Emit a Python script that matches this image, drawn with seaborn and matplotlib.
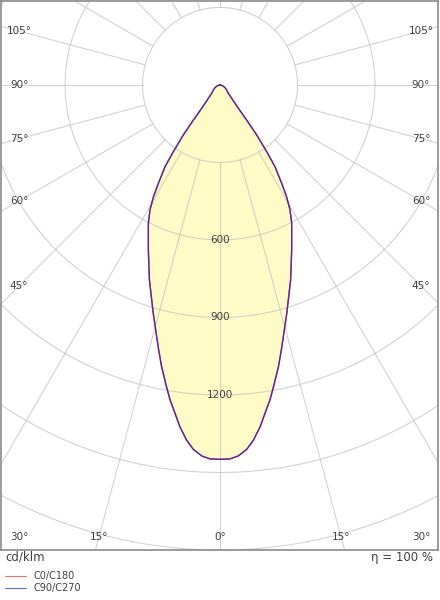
import numpy as np
import pandas as pd
import matplotlib
matplotlib.use("Agg")
import matplotlib.pyplot as plt
from matplotlib.lines import Line2D
import seaborn as sns

# luminous intensity (cd/klm) against gamma angle, one half-plane
gamma = [0, 1.5, 2.8, 4.2, 5.4, 6.7, 7.8, 9.0, 10.2, 11.8, 13.3, 16.3, 19.9, 23.5, 27.4,
         29.25, 30.8, 32.1, 33.95, 35.0, 36.3, 37.2, 38.5, 45, 53, 62, 71, 80, 90]
intensity_c0 = [1449, 1448, 1438, 1414, 1380, 1332, 1283, 1235, 1180, 1110, 1041, 921, 803,
                696, 603, 555, 503, 449, 381, 315, 240, 170, 106, 45, 32, 22, 12, 5, 0]
intensity_c90 = [1449, 1448, 1438, 1414, 1380, 1332, 1283, 1235, 1180, 1110, 1041, 921, 803,
                 696, 603, 555, 503, 449, 381, 315, 240, 170, 106, 45, 32, 22, 12, 5, 0]

ring_values = [300, 600, 900, 1200, 1500, 1800]
ring_labels = [600, 900, 1200]
spoke_angles = list(range(0, 360, 15))
side_labels = [45, 60, 75, 90, 105]
bottom_labels = [0, 15, 30]
legend_names = ["C0/C180", "C90/C270"]
efficiency_text = "η = 100 %"
unit_text = "cd/klm"

sns.set_theme(style="white")
plt.rcParams["font.family"] = ["DejaVu Sans"]

W, H = 440, 600
fig = plt.figure(figsize=(W / 100, H / 100), dpi=100)
ax = fig.add_axes([1 / W, 1 - 550 / H, 437 / W, 549 / H])
XMIN, XMAX, YMIN, YMAX = -848, 844, -1800, 325
ax.set_xlim(XMIN, XMAX)
ax.set_ylim(YMIN, YMAX)

grid_kw = dict(color="#c4c4c4", lw=0.8, alpha=0.75, zorder=2)


def half_to_full(g, vals):
    g = np.array(g, dtype=float)
    v = np.array(vals, dtype=float)
    ang = np.concatenate([-g[::-1], g[1:]])
    r = np.concatenate([v[::-1], v[1:]])
    rad = np.radians(ang)
    return pd.DataFrame({"x": r * np.sin(rad), "y": -r * np.cos(rad)})


curve_c0 = half_to_full(gamma, intensity_c0)
curve_c90 = half_to_full(gamma, intensity_c90)

# fill
ax.fill(curve_c0["x"], curve_c0["y"], color="#fffbc6", zorder=1, lw=0)

# rings
t = np.linspace(0, 2 * np.pi, 400)
for r in ring_values:
    ax.plot(r * np.cos(t), r * np.sin(t), **grid_kw)

# spokes start at inner ring
for a in spoke_angles:
    rad = np.radians(a)
    ax.plot([ring_values[0] * np.sin(rad), 2500 * np.sin(rad)],
            [-ring_values[0] * np.cos(rad), -2500 * np.cos(rad)], **grid_kw)

# curves
sns.lineplot(data=curve_c0, x="x", y="y", sort=False, estimator=None, ax=ax,
             color="#e02828", lw=1.0, zorder=4)
sns.lineplot(data=curve_c90, x="x", y="y", sort=False, estimator=None, ax=ax,
             color="#2828c8", lw=1.0, alpha=0.75, zorder=5)

txt_kw = dict(fontsize=7.5, color="#404040", ha="center", va="center", zorder=6)
for r in ring_labels:
    ax.text(0, -r, str(r), **txt_kw)

xs = 778
for a in side_labels:
    y = -xs / np.tan(np.radians(a)) if a != 90 else 0.0
    ax.text(-xs, y, f"{a}°", **txt_kw)
    ax.text(xs, y, f"{a}°", **txt_kw)

yb = -1750
for a in bottom_labels:
    x = min(abs(yb) * np.tan(np.radians(a)), xs)
    ax.text(-x, yb, f"{a}°", **txt_kw)
    if a != 0:
        ax.text(x, yb, f"{a}°", **txt_kw)

ax.set_xticks([])
ax.set_yticks([])
ax.set_xlabel("")
ax.set_ylabel("")
for s in ax.spines.values():
    s.set_color("#8a8a8a")
    s.set_linewidth(1.2)

fig.text(5 / W, 1 - 557 / H, unit_text, fontsize=8.5, color="#404040", ha="left", va="center")
fig.text(433 / W, 1 - 557 / H, efficiency_text, fontsize=8.5, color="#404040", ha="right", va="center")

legend_colors = ["#f07070", "#6a6ae0"]
for i, (name, col) in enumerate(zip(legend_names, legend_colors)):
    yy = 1 - (576 + 12 * i) / H
    fig.add_artist(Line2D([5 / W, 26 / W], [yy, yy], color=col, lw=0.8))
    fig.text(33 / W, yy, name, fontsize=7, color="#404040", ha="left", va="center")

fig.savefig("out.png", dpi=100, facecolor="white")
